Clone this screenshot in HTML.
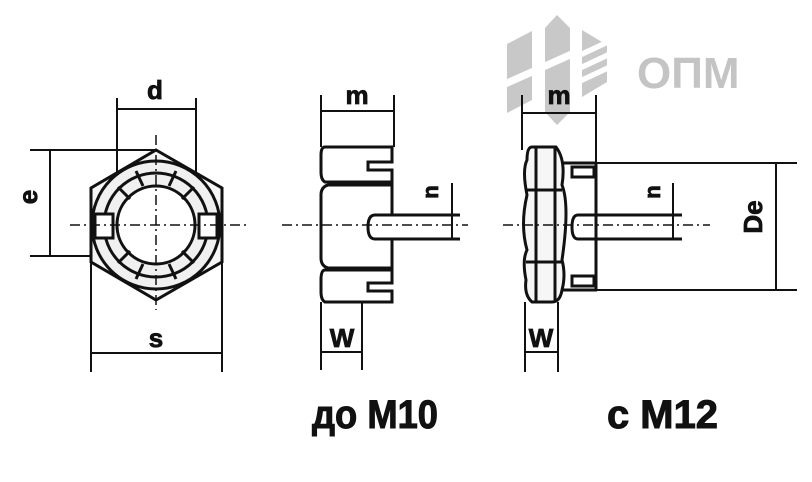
<!DOCTYPE html>
<html><head><meta charset="utf-8"><style>
body{margin:0;background:#fff;}
svg{display:block}
text{font-family:"Liberation Sans",sans-serif;font-weight:bold;fill:#111}
</style></head><body>
<svg width="812" height="482" viewBox="0 0 812 482" xmlns="http://www.w3.org/2000/svg">
<rect width="812" height="482" fill="#fff"/>
<!-- logo -->
<g fill="#c8c8c8">
<polygon points="507,44 532,31 532,100 507,113"/>
<polygon points="545,28 557,15 570,28 570,112 557,125 545,112"/>
<polygon points="582,30 607,45 607,82 582,97"/>
</g>
<g fill="#fff">
<polygon points="505,80 572,50 572,58 505,88"/>
<polygon points="580,52 610,38 610,44 580,58"/>
<polygon points="580,65 610,51 610,57 580,71"/>
<polygon points="580,78 610,64 610,70 580,84"/>
</g>
<text x="637" y="88" font-size="44" style="fill:#c4c4c4">ОПМ</text>
<g stroke="#111" fill="none" stroke-width="3">
<!-- left view -->
<polygon points="156,150 222,188 222,262 156,300 91,262 91,188" fill="#f6f6f6"/>
<circle cx="156" cy="225" r="64" fill="#f0f0f0"/>
<circle cx="156" cy="225" r="52"/>
<circle cx="156" cy="225" r="39" fill="#fff"/>
<rect x="95" y="214" width="18" height="24" fill="#fff"/>
<rect x="199" y="214" width="18" height="24" fill="#fff"/>
<g stroke-width="3">
<line x1="118" y1="187" x2="130" y2="199"/><line x1="194" y1="187" x2="182" y2="199"/>
<line x1="118" y1="263" x2="130" y2="251"/><line x1="194" y1="263" x2="182" y2="251"/>
<line x1="136" y1="171" x2="143" y2="186"/><line x1="176" y1="171" x2="169" y2="186"/>
<line x1="136" y1="279" x2="143" y2="264"/><line x1="176" y1="279" x2="169" y2="264"/>
</g>
<g stroke-width="2">
<line x1="30" y1="150" x2="156" y2="150"/><line x1="30" y1="256" x2="90" y2="256"/>
<line x1="50" y1="150" x2="50" y2="256"/>
<line x1="117" y1="98" x2="117" y2="172"/><line x1="196" y1="98" x2="196" y2="172"/>
<line x1="117" y1="109" x2="196" y2="109"/>
<line x1="91" y1="262" x2="91" y2="372"/><line x1="222" y1="262" x2="222" y2="372"/>
<line x1="91" y1="353" x2="222" y2="353"/>
</g>
<g stroke-width="1.5" stroke-dasharray="10,4,2,4">
<line x1="70" y1="225" x2="250" y2="225"/><line x1="156" y1="135" x2="156" y2="310"/>
</g>
<!-- middle view -->
<path d="M325,147 H392 V162 H368 V170 H392 V182 H325 Q321,180 321,172 V155 Q321,147 325,147 Z"/>
<path d="M328,185 H392 V215 H375 Q368,215 368,227 Q368,239 375,239 H392 V268 H328 Q321,266 321,258 V195 Q321,187 328,185 Z"/>
<path d="M325,270 H392 V283 H368 V291 H392 V302 H325 Q321,300 321,292 V280 Q321,270 325,270 Z"/>
<line x1="392" y1="215" x2="460" y2="215"/><line x1="392" y1="239" x2="460" y2="239"/>
<g stroke-width="2">
<line x1="321" y1="95" x2="321" y2="147"/><line x1="394" y1="95" x2="394" y2="147"/>
<line x1="321" y1="111" x2="394" y2="111"/>
<line x1="452" y1="183" x2="452" y2="238"/>
<line x1="321" y1="302" x2="321" y2="370"/><line x1="362" y1="302" x2="362" y2="370"/>
<line x1="321" y1="352" x2="362" y2="352"/>
</g>
<line x1="282" y1="225" x2="468" y2="225" stroke-width="1.5" stroke-dasharray="10,4,2,4"/>
<!-- right view -->
<path d="M532,147 H556 Q566,160 562,185 Q570,205 562,260 Q566,275 562,290 Q560,302 552,302 H532 Q524,295 526,280 Q522,260 527,250 Q520,225 527,195 Q522,170 527,160 Q527,147 532,147 Z" fill="#f6f6f6"/>
<line x1="536" y1="147" x2="536" y2="302"/><line x1="555" y1="147" x2="555" y2="302"/>
<line x1="526" y1="190" x2="562" y2="190"/><line x1="526" y1="262" x2="562" y2="262"/>
<line x1="563" y1="163" x2="597" y2="163"/><line x1="563" y1="290" x2="597" y2="290"/>
<line x1="596" y1="163" x2="596" y2="290"/>
<rect x="572" y="167" width="22" height="10"/><rect x="572" y="276" width="22" height="10"/>
<path d="M596,215 H578 Q572,215 572,227 Q572,239 578,239 H682"/><line x1="596" y1="215" x2="682" y2="215"/>
<g stroke-width="2">
<line x1="522" y1="95" x2="522" y2="150"/><line x1="596" y1="95" x2="596" y2="163"/>
<line x1="522" y1="113" x2="596" y2="113"/>
<line x1="597" y1="163" x2="797" y2="163"/><line x1="597" y1="290" x2="797" y2="290"/>
<line x1="776" y1="163" x2="776" y2="290"/>
<line x1="673" y1="183" x2="673" y2="240"/>
<line x1="525" y1="302" x2="525" y2="372"/><line x1="558" y1="302" x2="558" y2="372"/>
<line x1="525" y1="352" x2="558" y2="352"/>
</g>
<line x1="503" y1="225" x2="710" y2="225" stroke-width="1.5" stroke-dasharray="10,4,2,4"/>
</g>
<!-- labels -->
<text x="155" y="99" font-size="26" text-anchor="middle" stroke="#111" stroke-width="0.8">d</text>
<text x="156" y="347" font-size="26" text-anchor="middle" stroke="#111" stroke-width="0.8">s</text>
<text x="46" y="206" font-size="26" text-anchor="middle" transform="rotate(-90 37 206)" stroke="#111" stroke-width="0.8">e</text>
<text x="357" y="104" font-size="26" text-anchor="middle" stroke="#111" stroke-width="0.8">m</text>
<text x="342" y="347" font-size="26" text-anchor="middle" stroke="#111" stroke-width="0.8">W</text>
<text x="446" y="200" font-size="22" text-anchor="middle" transform="rotate(-90 438 200)" stroke="#111" stroke-width="0.8">n</text>
<text x="559" y="104" font-size="26" text-anchor="middle" stroke="#111" stroke-width="0.8">m</text>
<text x="541" y="347" font-size="26" text-anchor="middle" stroke="#111" stroke-width="0.8">W</text>
<text x="668" y="200" font-size="22" text-anchor="middle" transform="rotate(-90 660 200)" stroke="#111" stroke-width="0.8">n</text>
<text x="771" y="226" font-size="26" text-anchor="middle" transform="rotate(-90 762 226)" stroke="#111" stroke-width="0.8">De</text>
<text x="312" y="428" font-size="40" textLength="126" lengthAdjust="spacingAndGlyphs" stroke="#111" stroke-width="1">до M10</text>
<text x="607" y="428" font-size="40" textLength="111" lengthAdjust="spacingAndGlyphs" stroke="#111" stroke-width="1">с M12</text>
</svg>
</body></html>
